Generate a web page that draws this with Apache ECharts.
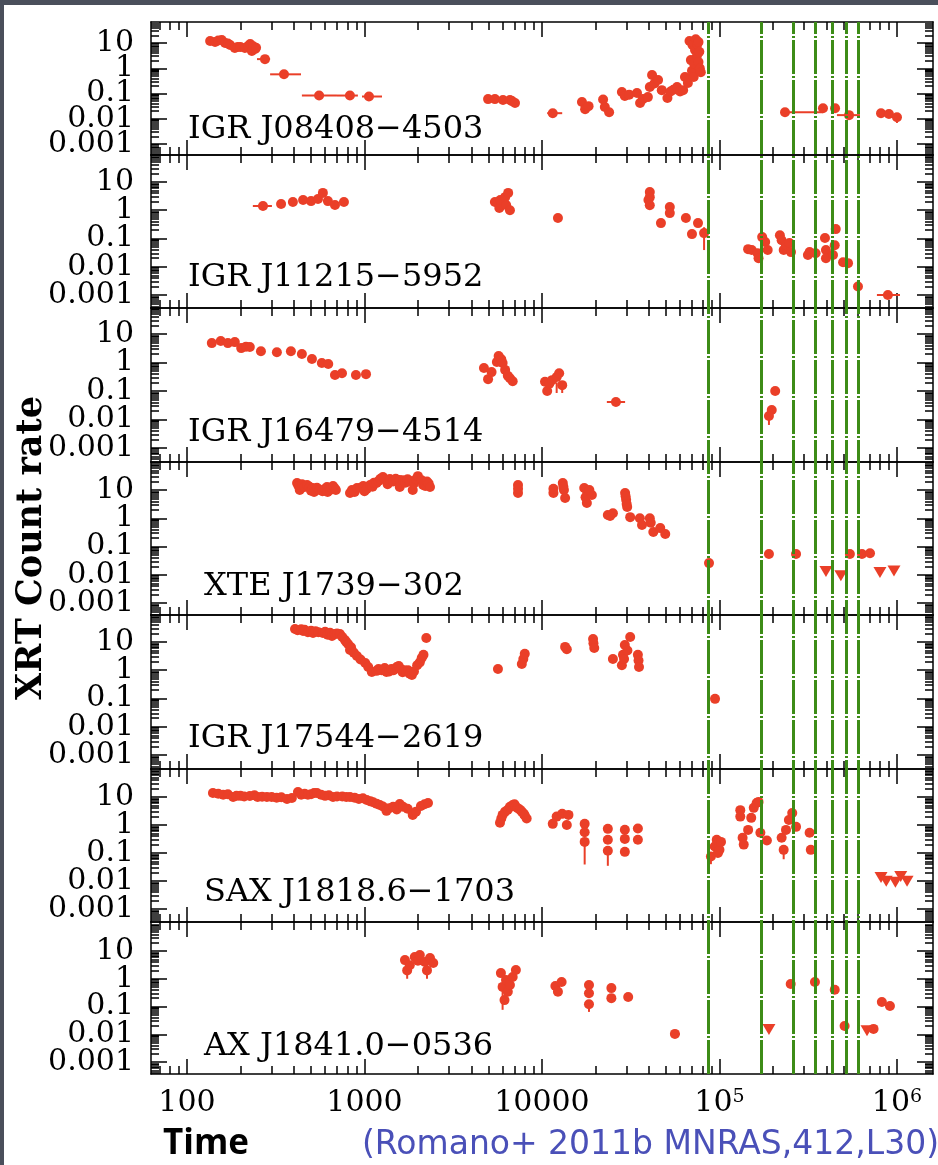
<!DOCTYPE html>
<html>
<head>
<meta charset="utf-8">
<title>XRT light curves</title>
<script src="https://cdn.jsdelivr.net/npm/echarts@6/dist/echarts.min.js"></script>
<style>
  html, body { margin: 0; padding: 0; background: #4a4f5b; }
  #sheet { position: absolute; left: 4px; top: 5px; width: 934px; height: 1160px; background: #fff; }
  #chart { position: absolute; left: 0; top: 0; width: 938px; height: 1165px; }
</style>
</head>
<body>
<div id="sheet"></div>
<div id="chart"></div>
<script>
// ---- data (time in s, XRT count rate in counts/s) ----
const sources = ['IGR J08408\u22124503', 'IGR J11215\u22125952', 'IGR J16479\u22124514',
  'XTE J1739\u2212302', 'IGR J17544\u22122619', 'SAX J1818.6\u22121703', 'AX J1841.0\u22120536'];

const j08408 = [[135, 12], [144, 11], [150, 12.5], [157, 13.2], [164, 10], [170, 9.5], [175, 8.3],
  [186, 6.3], [193, 7], [200, 6.9], [212, 6.3], [221, 7.6], [227, 9.1], [232, 4.8], [236, 7.5], [242, 5.8], [245, 6.5],
  [275, 2.3], [352, 0.575], [555, 0.083], [828, 0.083], [1060, 0.076],
  [4970, 0.06], [5430, 0.06], [6030, 0.055], [6600, 0.055], [6780, 0.05], [7050, 0.042],
  [11500, 0.0166], [16800, 0.046], [17500, 0.024], [18300, 0.0316], [22100, 0.0575], [22600, 0.029], [23900, 0.018],
  [28200, 0.114], [29300, 0.079], [31000, 0.09], [34300, 0.104], [35700, 0.042], [37000, 0.06], [39500, 0.072],
  [40500, 0.18], [41700, 0.54], [43000, 0.25], [45100, 0.34], [47300, 0.136], [50900, 0.066], [53000, 0.12],
  [55000, 0.14], [57700, 0.18], [60000, 0.12], [62400, 0.136], [63900, 0.45], [66400, 0.26],
  [67800, 12], [69000, 2.1], [70000, 0.8], [70500, 8.3], [71600, 0.45], [72000, 1.5], [72800, 5.3], [73500, 14],
  [74800, 3.3], [75000, 9], [76200, 1.76], [76200, 11], [77000, 4.5], [77500, 1.0], [78500, 0.7],
  [234000, 0.018], [383000, 0.026], [448000, 0.026], [537000, 0.0139], [813000, 0.0166], [901000, 0.0153], [1000000, 0.0115]];
const j08408XErr = [[248, 294, 2.3], [294, 439, 0.575], [444, 700, 0.083], [700, 918, 0.083], [968, 1255, 0.076],
  [10700, 13000, 0.0166], [225000, 383000, 0.018], [459000, 619000, 0.0139]];
const j08408YErr = [[1000000, 0.0068, 0.0115]];

const j11215 = [[268, 1.41], [339, 1.66], [395, 1.95], [451, 2.3], [500, 2.1], [547, 2.5], [583, 4.1], [622, 2.1],
  [682, 1.53], [766, 1.95],
  [5430, 1.95], [5750, 1.2], [5820, 2.3], [6200, 2.9], [6280, 1.53], [6450, 4.1], [6600, 1.0],
  [12300, 0.53], [39800, 2.3], [40500, 4.4], [40500, 2.9], [40500, 1.5],
  [46800, 0.35], [52500, 1.3], [52500, 0.79], [64700, 0.53], [70000, 0.143], [75700, 0.35], [81900, 0.155],
  [145000, 0.042], [152000, 0.039], [164000, 0.03], [166000, 0.02], [174000, 0.112], [181000, 0.075], [187000, 0.039],
  [219000, 0.13], [224000, 0.087], [230000, 0.039], [237000, 0.058], [248000, 0.069], [253000, 0.033],
  [315000, 0.026], [322000, 0.033], [348000, 0.03], [393000, 0.104], [398000, 0.039], [398000, 0.02],
  [436000, 0.026], [446000, 0.058], [452000, 0.215], [497000, 0.0145], [530000, 0.0134], [603000, 0.002], [889000, 0.001]];
const j11215XErr = [[235, 301, 1.41], [771000, 1040000, 0.001]];
const j11215YErr = [[81900, 0.039, 0.25]];

const j16479 = [[138, 4.8], [155, 5.7], [170, 4.8], [186, 5.2], [202, 3.2], [215, 3.6], [226, 3.5], [261, 2.5], [321, 2.3],
  [385, 2.5], [444, 2.0], [506, 1.33], [575, 0.96], [625, 0.89], [682, 0.365], [747, 0.42], [895, 0.365], [1020, 0.39],
  [4710, 0.64], [4970, 0.26], [5200, 0.46], [5570, 1.04], [5700, 1.7], [5900, 1.3], [6000, 0.96], [6200, 0.55],
  [6420, 0.34], [6600, 0.28], [6840, 0.22],
  [10400, 0.21], [10700, 0.1], [11000, 0.18], [11400, 0.24], [12100, 0.31], [12500, 0.42], [13000, 0.16],
  [26100, 0.041], [206000, 0.1], [197000, 0.0215], [190000, 0.0133]];
const j16479XErr = [[23200, 29400, 0.041]];
const j16479YErr = [[190000, 0.0064, 0.0133], [12100, 0.085, 0.2], [13000, 0.085, 0.16]];

const j1739 = [[417, 17.7], [425, 14], [432, 10], [445, 16], [460, 12.8], [475, 15], [490, 13], [500, 9.5],
  [510, 11.8], [520, 8.5], [540, 12], [560, 10], [580, 9], [600, 11], [615, 12.8], [620, 8.5], [640, 10], [650, 12],
  [665, 13.8], [680, 11.5], [690, 10],
  [829, 7.8], [850, 10], [880, 8.5], [907, 11.8], [950, 12], [984, 13.8], [1000, 9], [1030, 11], [1075, 15],
  [1110, 13], [1130, 18], [1170, 17.7], [1200, 21], [1230, 25], [1270, 28.8], [1300, 24], [1350, 16], [1390, 24.5],
  [1450, 20], [1500, 25], [1580, 22.6], [1580, 12.8], [1650, 22], [1700, 18], [1750, 24], [1800, 20.8], [1870, 10],
  [1900, 17], [1950, 24], [2000, 31], [2100, 22], [2140, 15], [2200, 14], [2250, 20], [2300, 17], [2340, 12.8],
  [7330, 7.8], [7330, 15], [7330, 11], [11600, 7.8], [11600, 11], [13100, 17.7], [13300, 10], [13500, 5.2],
  [13200, 13], [17300, 11.8], [17900, 3.5], [18000, 8], [17600, 5.5], [19100, 6.7], [18500, 10],
  [23500, 1.31], [25100, 1.5], [24200, 1.2], [29400, 7.8], [29800, 4.5], [30200, 2.5], [31400, 1.1], [29600, 6],
  [30000, 3.2], [35600, 1.0], [36600, 0.58], [40500, 1.0], [41000, 0.7], [42400, 0.33], [46400, 0.45], [49500, 0.28],
  [87300, 0.026], [190000, 0.055], [270000, 0.055], [543000, 0.055], [635000, 0.055], [705000, 0.058]];
const j1739Limits = [[398000, 0.013], [483000, 0.0092], [802000, 0.012], [962000, 0.0138]];

const j17544 = [[406, 28.8], [420, 26], [440, 28], [451, 24.5], [460, 27], [480, 22], [500, 25], [513, 20.8],
  [530, 24], [550, 22], [583, 20.8], [600, 23], [620, 18], [640, 21], [656, 16.3], [680, 19], [700, 20], [727, 19],
  [750, 15], [776, 11.8], [790, 10], [808, 8.5], [829, 5.2], [840, 6.5], [870, 4.2], [907, 3.2], [950, 2.4],
  [1010, 1.8], [1050, 1.3], [1100, 0.87], [1170, 0.95], [1200, 1.1], [1250, 1.0], [1300, 1.2], [1330, 0.87],
  [1380, 0.9], [1420, 1.1], [1460, 1.0], [1520, 1.3], [1560, 1.4], [1600, 1.1], [1640, 0.85], [1680, 1.0],
  [1720, 0.9], [1760, 1.0], [1800, 0.75], [1850, 0.68], [1900, 0.9], [1980, 1.5], [2050, 1.9], [2100, 2.7],
  [2150, 3.5], [2230, 13.9],
  [5650, 1.1], [7700, 1.67], [7850, 2.5], [8000, 3.8], [13500, 6.7], [13800, 5.5], [19400, 12.8], [19500, 9],
  [19700, 6.1], [25100, 2.5], [28200, 1.5], [28600, 3.5], [29000, 2.5], [29300, 7.8], [30300, 5], [31400, 15],
  [34700, 3.5], [35000, 2.2], [35200, 1.3], [94400, 0.097]];

const j1818 = [[140, 13.9], [150, 13], [160, 12], [170, 12.5], [182, 10], [190, 11], [200, 11], [210, 10.5],
  [226, 10.8], [240, 11.5], [250, 10], [265, 10.3], [282, 10], [300, 10], [320, 9.5], [340, 9.8], [366, 8.5],
  [390, 9.2], [422, 15], [440, 12], [460, 13], [480, 12], [500, 12.5], [520, 14], [540, 13.9], [570, 12], [600, 11],
  [630, 11.5], [665, 10], [700, 10.5], [750, 10.5], [790, 10], [829, 10], [880, 9.5], [930, 8.5], [980, 9],
  [1030, 7.8], [1080, 7], [1120, 6.5], [1170, 5.8], [1220, 5.2], [1270, 4.6], [1330, 3.2], [1380, 4], [1450, 4.5],
  [1520, 3.6], [1580, 5.6], [1650, 4.5], [1750, 3.8], [1870, 2.3], [1950, 3], [2080, 4.8], [2180, 5.5], [2280, 6.1],
  [5800, 1.2], [5900, 1.7], [6000, 2.3], [6200, 3], [6420, 3.5], [6600, 4.5], [6840, 5.2], [7000, 5.5], [7100, 4.5],
  [7300, 4], [7530, 3.5], [7700, 3], [7900, 2.5], [8000, 2.2], [8200, 1.7],
  [11500, 1.1], [12100, 2.0], [13000, 2.5], [13800, 1.0], [14100, 2.3],
  [17400, 1.1], [17400, 0.55], [17400, 0.25], [23500, 0.73], [23500, 0.3], [23500, 0.12],
  [29300, 0.68], [29300, 0.32], [29300, 0.11], [34700, 0.75], [34700, 0.3],
  [89500, 0.075], [94000, 0.17], [96500, 0.3], [98000, 0.1], [100000, 0.13], [102000, 0.25],
  [131000, 3.4], [131000, 2.0], [135000, 0.35], [137000, 0.2], [145000, 0.67], [151000, 1.8], [156000, 4.1],
  [162000, 6.1], [166000, 6.7], [170000, 0.53], [185000, 0.28],
  [224000, 0.35], [230000, 0.13], [237000, 0.67], [246000, 1.5], [257000, 2.7], [270000, 0.86], [322000, 0.53], [327000, 0.13]];
const j1818Limits = [[813000, 0.0134], [870000, 0.0098], [980000, 0.009], [1050000, 0.0146], [1140000, 0.0098]];
const j1818YErr = [[17400, 0.039, 0.25], [23500, 0.035, 0.12], [29300, 0.087, 0.11], [89500, 0.04, 0.075], [230000, 0.06, 0.13]];

const j1841 = [[1690, 4.7], [1740, 2.0], [1800, 3.1], [1920, 6.1], [2000, 4.5], [2050, 7.2], [2190, 4.0], [2250, 2.0],
  [2340, 5.6], [2440, 3.7],
  [5870, 1.6], [6000, 0.51], [6150, 0.17], [6270, 0.9], [6420, 0.34], [6600, 0.6], [6840, 1.16], [7130, 2.07],
  [11900, 0.55], [12300, 0.34], [12900, 0.77], [18400, 0.6], [18400, 0.3], [18400, 0.12], [24600, 0.46], [24600, 0.2],
  [30600, 0.22], [56100, 0.0103],
  [252000, 0.65], [345000, 0.77], [446000, 0.4], [507000, 0.02], [738000, 0.0156], [822000, 0.146], [913000, 0.105]];
const j1841Limits = [[190000, 0.015], [678000, 0.0134]];
const j1841XErr = [[53300, 59800, 0.0103]];
const j1841YErr = [[6000, 0.076, 0.51], [18400, 0.064, 0.12], [1740, 1.0, 2.0], [2250, 1.0, 2.0]];

const points = [j08408, j11215, j16479, j1739, j17544, j1818, j1841];
const limits = [[], [], [], j1739Limits, [], j1818Limits, j1841Limits];
const xErrs = [j08408XErr, j11215XErr, j16479XErr, [], [], [], j1841XErr];
const yErrs = [j08408YErr, j11215YErr, j16479YErr, [], [], j1818YErr, j1841YErr];

// one line per day after the trigger
const dayMarks = [86400, 172800, 259200, 345600, 432000, 518400, 604800];

// ticks
const xMajorTicks = [100, 1000, 10000, 100000, 1000000];
const xTickLabels = ['{b|100}', '{b|1000}', '{b|10000}', '{b|10}{s|5}', '{b|10}{s|6}'];
const xDecades = [10, 100, 1000, 10000, 100000, 1000000];
const yMajorTicks = [0.001, 0.01, 0.1, 1, 10];
const yTickLabels = ['0.001', '0.01', '0.1', '1', '10'];
const yDecades = [0.0001, 0.001, 0.01, 0.1, 1, 10];
const minorSteps = [2, 3, 4, 5, 6, 7, 8, 9];

// ---- layout ----
const xMin = 62.7, xMax = 1.596e6;
const panelTop = [22, 155, 308, 462, 615, 769, 922];
const panelBottom = [155, 308, 462, 615, 769, 922, 1074];
const yMin = [3.66e-4, 3.47e-4, 3.2e-4, 3.8e-4, 3.2e-4, 3.45e-4, 3.7e-4];
const yMax = [68, 90, 82, 98, 90, 100, 111];
const titleLeft = [188, 188, 188, 204, 188, 204, 204];
const titleBaseline = [140, 288, 443, 597, 749, 903, 1057];

const RED = '#ea3f28';
const SERIF = '"DejaVu Serif", serif';

const minorOf = decades => decades.flatMap(d => minorSteps.map(m => +(d * m).toPrecision(6)));
const xMinorTicks = minorOf(xDecades);
const yMinorTicks = minorOf(yDecades);
// the decade labels overlap a little, so they are split over two axes
// (ECharts drops an end label that touches its neighbour)
const yLabelsEven = yMajorTicks.filter((v, k) => k % 2 === 0);
const yLabelsOdd = yMajorTicks.filter((v, k) => k % 2 === 1);

function pick(v, ticks, labels) {
  const k = ticks.findIndex(t => Math.abs(Math.log10(t) - Math.log10(v)) < 1e-6);
  return k < 0 ? '' : labels[k];
}

const chart = echarts.init(document.getElementById('chart'));

const grids = [], xAxes = [], yAxes = [], series = [], titles = [];
const line = { color: '#000', width: 1.5 };

function yLabel(values) {
  return {
    show: true, customValues: values, margin: 17, color: '#000',
    showMinLabel: true, showMaxLabel: true,
    fontFamily: SERIF, fontSize: 30,
    formatter: v => pick(v, yMajorTicks, yTickLabels)
  };
}

for (let i = 0; i < 7; i++) {
  grids.push({ left: 151, right: 5, top: panelTop[i], height: panelBottom[i] - panelTop[i], outerBoundsMode: 'none' });

  ['bottom', 'top'].forEach(pos => {
    const last = pos === 'bottom' && i === 6;
    xAxes.push({
      type: 'log', gridIndex: i, position: pos, min: xMin, max: xMax,
      axisLine: { show: true, onZero: false, lineStyle: line },
      axisTick: { inside: true, length: 15, lineStyle: line, customValues: xMajorTicks },
      splitLine: { show: false },
      axisLabel: last ? {
        show: true, customValues: xMajorTicks, margin: 14, color: '#000',
        showMinLabel: true, showMaxLabel: true,
        formatter: v => pick(v, xMajorTicks, xTickLabels),
        rich: {
          b: { fontFamily: SERIF, fontSize: 30, color: '#000' },
          s: { fontFamily: SERIF, fontSize: 19, color: '#000', verticalAlign: 'top' }
        }
      } : { show: false }
    });
    xAxes.push({
      type: 'log', gridIndex: i, position: pos, min: xMin, max: xMax,
      axisLine: { show: false, onZero: false },
      axisTick: { inside: true, length: 8, lineStyle: line, customValues: xMinorTicks },
      splitLine: { show: false }, axisLabel: { show: false }
    });
  });

  ['left', 'right'].forEach(pos => {
    const left = pos === 'left';
    yAxes.push({
      type: 'log', gridIndex: i, position: pos, min: yMin[i], max: yMax[i],
      axisLine: { show: true, onZero: false, lineStyle: line },
      axisTick: { inside: true, length: 16, lineStyle: line, customValues: yMajorTicks },
      splitLine: { show: false },
      axisLabel: left ? yLabel(yLabelsEven) : { show: false }
    });
    yAxes.push({
      type: 'log', gridIndex: i, position: pos, min: yMin[i], max: yMax[i],
      axisLine: { show: false, onZero: false },
      axisTick: { inside: true, length: 8, lineStyle: line, customValues: yMinorTicks },
      splitLine: { show: false },
      axisLabel: left ? yLabel(yLabelsOdd) : { show: false }
    });
  });

  series.push({
    type: 'scatter', xAxisIndex: 4 * i, yAxisIndex: 4 * i, data: points[i],
    symbol: 'circle', symbolSize: 10, itemStyle: { color: RED, opacity: 1 }, z: 4, silent: true
  });
  if (limits[i].length) {
    series.push({
      type: 'scatter', xAxisIndex: 4 * i, yAxisIndex: 4 * i, data: limits[i],
      symbol: 'triangle', symbolRotate: 180, symbolSize: [13, 11], itemStyle: { color: RED, opacity: 1 }, z: 4, silent: true
    });
  }
  const bars = xErrs[i].map(e => [e[0], e[2], e[1], e[2]]).concat(yErrs[i].map(e => [e[0], e[1], e[0], e[2]]));
  if (bars.length) {
    series.push({
      type: 'custom', xAxisIndex: 4 * i, yAxisIndex: 4 * i, data: bars, z: 4, silent: true,
      encode: { x: [0, 2], y: [1, 3] },
      renderItem: (params, api) => {
        const a = api.coord([api.value(0), api.value(1)]);
        const b = api.coord([api.value(2), api.value(3)]);
        return { type: 'line', shape: { x1: a[0], y1: a[1], x2: b[0], y2: b[1] }, style: { stroke: RED, lineWidth: 2 } };
      }
    });
  }

  titles.push({
    text: sources[i], left: titleLeft[i], top: titleBaseline[i] - 26, padding: 0,
    textStyle: { fontFamily: SERIF, fontSize: 32, fontWeight: 'normal', color: '#000', lineHeight: 32 }
  });
}

// full-height overlay for the day lines
grids.push({ left: 151, right: 5, top: panelTop[0], height: panelBottom[6] - panelTop[0], outerBoundsMode: 'none' });
xAxes.push({ type: 'log', gridIndex: 7, min: xMin, max: xMax, show: false });
yAxes.push({ type: 'value', gridIndex: 7, min: 0, max: 1, show: false });
series.push({
  type: 'scatter', xAxisIndex: 28, yAxisIndex: 28, data: [], z: 2, silent: true,
  markLine: {
    silent: true, symbol: ['none', 'none'], label: { show: false },
    lineStyle: { color: '#3d8c17', width: 3, type: [34, 2, 2, 2], opacity: 1 },
    emphasis: { disabled: true },
    data: dayMarks.map(d => ({ xAxis: d }))
  }
});

chart.setOption({
  animation: false,
  backgroundColor: 'transparent',
  title: titles,
  grid: grids,
  xAxis: xAxes,
  yAxis: yAxes,
  series: series,
  graphic: [
    {
      type: 'text', x: 32, y: 548, rotation: Math.PI / 2,
      style: { text: 'XRT Count rate', font: 'bold 35px "DejaVu Serif"', fill: '#000', align: 'center', verticalAlign: 'middle' }
    },
    {
      type: 'text', x: 163, y: 1144,
      style: { text: 'Time', font: 'bold 35px "Open Sans"', fill: '#000', align: 'left', verticalAlign: 'middle' }
    },
    {
      type: 'text', x: 362, y: 1145,
      style: { text: '(Romano+ 2011b MNRAS,412,L30)', font: '33px "DejaVu Sans"', fill: '#4a50b8', align: 'left', verticalAlign: 'middle' }
    }
  ]
});
</script>
</body>
</html>
